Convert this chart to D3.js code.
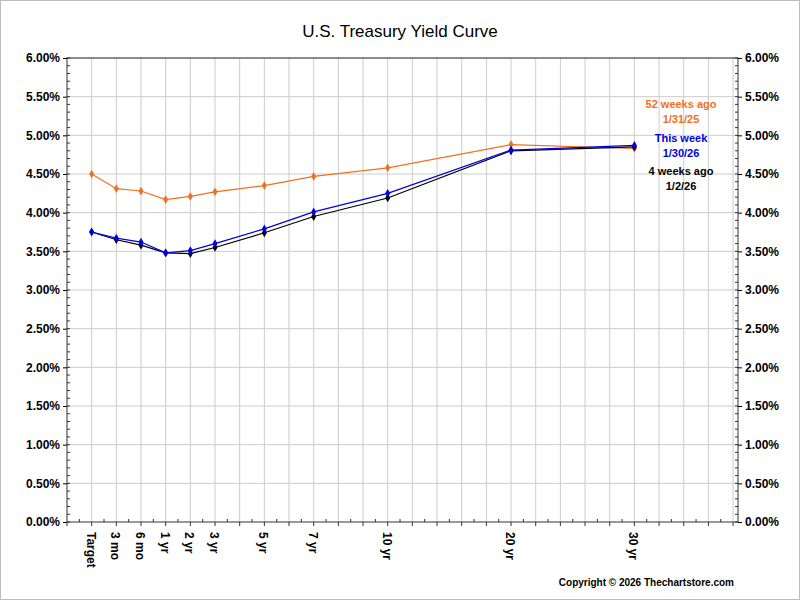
<!DOCTYPE html>
<html><head><meta charset="utf-8">
<script src="https://cdn.jsdelivr.net/npm/d3@7"></script>
<style>body{margin:0;background:#fff}text{font-family:Arial,"Liberation Sans",sans-serif}</style>
</head><body><svg id="c" width="800" height="600"></svg>
<script>
const categories = ["Target","3 mo","6 mo","1 yr","2 yr","3 yr","5 yr","7 yr","10 yr","20 yr","30 yr"];
const positions = [1,2,3,4,5,6,8,10,13,18,23];
const yearAgo = [4.50,4.31,4.28,4.17,4.21,4.27,4.35,4.47,4.58,4.88,4.83];
const thisWeek = [3.75,3.67,3.62,3.48,3.51,3.60,3.79,4.01,4.25,4.81,4.87];
const monthAgo = [3.75,3.65,3.58,3.48,3.47,3.55,3.74,3.95,4.19,4.80,4.85];
const yTicks = d3.range(0, 6.01, 0.5);

const svg = d3.select("#c");
svg.append("rect").attr("x",0.5).attr("y",0.5).attr("width",799).attr("height",599).attr("fill","#fff").attr("stroke","#bbb");
const L=67,R=738,T=58,B=522;
const x = d3.scaleLinear().domain([0,27.2]).range([L,R]);
const y = d3.scaleLinear().domain([0,6]).range([B,T]);

svg.append("text").attr("x",400).attr("y",37).attr("text-anchor","middle").attr("font-size",17).text("U.S. Treasury Yield Curve");

const g = svg.append("g");
g.selectAll(".vg").data(d3.range(1,28)).join("line").attr("x1",d=>x(d)).attr("x2",d=>x(d)).attr("y1",T).attr("y2",B).attr("stroke","#ccc");
g.selectAll(".hg").data(yTicks.slice(1)).join("line").attr("x1",L).attr("x2",R).attr("y1",d=>y(d)).attr("y2",d=>y(d)).attr("stroke","#ccc");
g.append("rect").attr("x",L).attr("y",T).attr("width",R-L).attr("height",B-T).attr("fill","none").attr("stroke","#333");

const fmt = d => d.toFixed(2)+"%";
svg.append("g").attr("transform",`translate(${L},0)`).call(d3.axisLeft(y).tickValues(yTicks).tickFormat(fmt).tickSize(4))
  .call(a=>{a.select(".domain").remove();a.selectAll("text").attr("font-size",12).attr("font-weight","bold").attr("fill","#000")});
svg.append("g").attr("transform",`translate(${R},0)`).call(d3.axisRight(y).tickValues(yTicks).tickFormat(fmt).tickSize(4))
  .call(a=>{a.select(".domain").remove();a.selectAll("text").attr("font-size",12).attr("font-weight","bold").attr("fill","#000")});
// minor ticks
svg.append("g").selectAll("line").data(d3.range(0,6.01,0.1)).join("line")
  .attr("x1",L).attr("x2",L+3).attr("y1",d=>y(d)).attr("y2",d=>y(d)).attr("stroke","#333");
svg.append("g").selectAll("line").data(d3.range(0,6.01,0.1)).join("line")
  .attr("x1",R-3).attr("x2",R).attr("y1",d=>y(d)).attr("y2",d=>y(d)).attr("stroke","#333");
svg.append("g").selectAll("line").data(d3.range(0,27.1,0.5)).join("line")
  .attr("x1",d=>x(d)).attr("x2",d=>x(d)).attr("y1",B).attr("y2",d=>d%1===0?B+4:B-3).attr("stroke","#333");

svg.append("g").selectAll("text").data(categories).join("text")
  .attr("transform",(d,i)=>`translate(${x(positions[i])-5},${B+10}) rotate(90)`)
  .attr("font-size",12).attr("font-weight","bold").text(d=>d);

const series=[{v:yearAgo,c:"#f07020"},{v:monthAgo,c:"#000"},{v:thisWeek,c:"#0000e0"}];
const line = d3.line().x((d,i)=>x(positions[i])).y(d=>y(d));
series.forEach(s=>{
  svg.append("path").attr("d",line(s.v)).attr("fill","none").attr("stroke",s.c).attr("stroke-width",1.2);
  svg.append("g").selectAll("path").data(s.v).join("path")
    .attr("d",d3.symbol(d3.symbolDiamond,22)).attr("transform",(d,i)=>`translate(${x(positions[i])},${y(d)})`).attr("fill",s.c);
});

const leg=[["52 weeks ago",108,"#f07020"],["1/31/25",123,"#f07020"],["This week",142,"#0000e0"],["1/30/26",157,"#0000e0"],["4 weeks ago",175,"#000"],["1/2/26",190,"#000"]];
svg.append("g").selectAll("text").data(leg).join("text").attr("x",681).attr("y",d=>d[1]).attr("text-anchor","middle")
  .attr("font-size",11).attr("font-weight","bold").attr("fill",d=>d[2]).text(d=>d[0]);
svg.append("text").attr("x",734).attr("y",586).attr("text-anchor","end").attr("font-size",10).attr("font-weight","bold").text("Copyright © 2026 Thechartstore.com");
</script></body></html>
